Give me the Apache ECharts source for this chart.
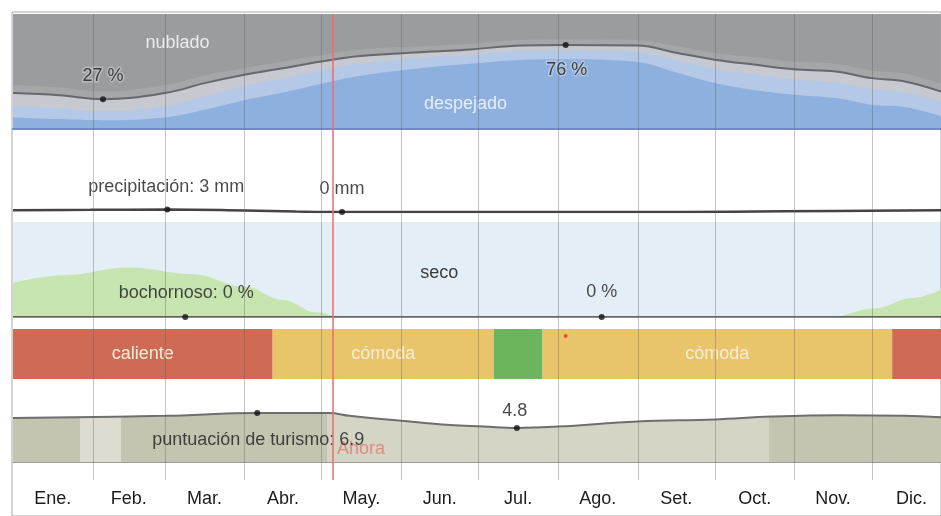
<!DOCTYPE html>
<html><head><meta charset="utf-8">
<script src="https://cdn.jsdelivr.net/npm/echarts@6/dist/echarts.min.js"></script>
<style>html,body{margin:0;padding:0;background:#fff}#c{width:941px;height:516px}</style>
</head><body><div id="c"></div>
<script>
// ---------- DATA ----------
const monthNames = ['Ene.','Feb.','Mar.','Abr.','May.','Jun.','Jul.','Ago.','Set.','Oct.','Nov.','Dic.'];
const monthStarts = [0,31,59,90,120,151,181,212,243,273,304,334,365];
const monthCenters = [15.5,45,74.5,105,135.5,166,196.5,227.5,258,288.5,319,349.5];
const nowDay = 124.5;

// Nubosidad: upper edge (%) of each cumulative band, from the bottom
const cloudDays            = [0,18,35,59,75,90,105,120,135,163,178,198,215,243,258,273,289,304,320,334,347,361];
const cloudClearTop        = [10.5,9,8,10.5,17.7,26,33,41,48,56,59,62.5,63,60.5,51,41.6,35,31,28,22,20,11.8];
const cloudMostlyClearTop  = [20.5,18.5,16,20.5,29.7,39,46,53,59,65,67,70.5,71,69.5,62,54.6,49,45,42,36,33,24.8];
const cloudLine            = [32.5,30.5,27,32.5,41.7,49,55,61,66,70,72,75.5,76,75.5,69,62.6,58,54,52,46,43,33.8];
const cloudMostlyCloudyTop = [39.5,37.5,34,39.5,48.7,55,61,67,72,75,77,80.5,81,80.5,75,68.6,65,61,59,53,50,40.8];
const cloudMarkDays    = [35,215];
const cloudMarkValues  = [27,76];

// Precipitación (mm)
const precipDays   = [0,30,60,90,110,128,160,200,240,280,320,361];
const precipMm     = [2.2,2.6,3,1.8,0.6,0,0,0,0,0.4,1.2,2];
const precipMarkDays   = [60,128];
const precipMarkValues = [3,0];

// Humedad
const humidDays    = [0,20,45,70,90,105,118,128,318,335,350,361];
const humidComfort = [36,44,52,45,32,18,5,0,0,9,20,29];
const muggyDays    = [0,361];
const muggyPct     = [0,0];
const muggyMarkDays   = [67,229];
const muggyMarkValues = [0,0];

// Temperatura (bandas)
const tempStarts = [0,101,187,206,342];
const tempEnds   = [101,187,206,342,365];
const tempCats   = ['caliente','cómoda','fresca','cómoda','caliente'];
const tempMarkDays = [215];

// Puntuación de turismo
const tourismDays  = [0,59,95,123,131,151,170,183,196,212,243,273,295,321,347,361];
const tourismScore = [6.2,6.5,6.9,6.9,6.5,5.8,5.2,5.0,4.8,5.0,5.7,6.0,6.4,6.6,6.5,6.3];
const tourismMarkDays   = [95,196];
const tourismMarkValues = [6.9,4.8];
const tourismBandEdges = [0,26,42,122,294,365];
const tourismBandCats  = ['buena','regular','buena','aceptable','buena'];

// ---------- CHART ----------
const FONT = "'Liberation Sans', Arial, sans-serif";
const TXT = '#1c1c1c';
const zip = (a,b) => a.map((v,i)=>[v,b[i]]);
const tempColors = {'caliente':'#cf6b55','cómoda':'#e8c46b','fresca':'#6db45f'};
const tourismColors = {'buena':'#c4c5b0','regular':'#dedcd0','aceptable':'#d4d5c5'};
const XMAX = 361;

const grids = [
  {left:13,right:0,top:14,height:115,show:true,backgroundColor:'#9a9ca0',borderWidth:0},
  {left:13,right:0,top:129,height:83},
  {left:13,right:0,top:222,height:95,show:true,backgroundColor:'#e3eef6',borderWidth:0},
  {left:13,right:0,top:329,height:50},
  {left:13,right:0,top:391,height:71},
  {left:13,right:0,top:14,height:466},
  {left:12,right:-20,top:12,bottom:-20,show:true,borderColor:'#a8a8a8',borderWidth:1,backgroundColor:'rgba(0,0,0,0)'}
];
const yRanges = [[0,104],[0,100],[0,100],[0,1],[0,10],[0,1],[0,1]];
const xAxes = grids.map((g,i)=>({type:'value',gridIndex:i,min:0,max:XMAX,show:false,splitLine:{show:false}}));
xAxes[0] = {type:'value',gridIndex:0,min:0,max:XMAX,z:5,axisLine:{show:true,lineStyle:{color:'#7686cc',width:2}},axisTick:{show:false},axisLabel:{show:false},splitLine:{show:false}};
xAxes[4] = {type:'value',gridIndex:4,min:0,max:XMAX,z:5,axisLine:{show:true,lineStyle:{color:'#9c9c9c',width:1}},axisTick:{show:false},axisLabel:{show:false},splitLine:{show:false}};
xAxes[5] = {type:'value',gridIndex:5,min:0,max:XMAX,axisLine:{show:false},axisTick:{show:false},splitLine:{show:false},
  axisLabel:{show:true,customValues:monthCenters,margin:10,fontSize:18,color:TXT,fontFamily:FONT,
    formatter:(v)=>monthNames[monthCenters.indexOf(v)]}};
const yAxes = yRanges.map((r,i)=>({type:'value',gridIndex:i,min:r[0],max:r[1],show:false,splitLine:{show:false}}));

const series = [];
function area(name, xi, data, color, z){
  series.push({name,type:'line',xAxisIndex:xi,yAxisIndex:xi,data,smooth:0.4,symbol:'none',
    lineStyle:{width:0},areaStyle:{color,opacity:1,origin:'start'},silent:true,z:z});
}
function dots(xi, data, texts, offsets, halo){
  series.push({type:'scatter',xAxisIndex:xi,yAxisIndex:xi,symbolSize:6,itemStyle:{color:'#111'},z:6,
    data: data.map((d,i)=>({value:d,label:{offset:offsets[i]}})),
    label:{show:true,position:'inside',fontSize:18,fontFamily:FONT,color:TXT,
      textBorderColor: halo ? 'rgba(225,225,225,0.55)' : 'transparent', textBorderWidth: halo?3:0,
      formatter:(p)=>texts[p.dataIndex]}});
}
function textAt(xi, items, z){
  series.push({type:'scatter',xAxisIndex:xi,yAxisIndex:xi,symbolSize:0,silent:true,z:z||4,
    data: items.map(it=>({value:it.at,label:{color:it.color,opacity:it.opacity==null?1:it.opacity}})),
    label:{show:true,position:'inside',fontSize:18,fontFamily:FONT,formatter:(p)=>items[p.dataIndex].text}});
}

// Cloud panel (bands drawn from tallest to shortest, each from the axis)
area('mayormente nublado',0,zip(cloudDays,cloudMostlyCloudyTop),'#a4a6aa',2);
area('parcialmente nublado',0,zip(cloudDays,cloudLine),'#c6c9cf',2);
area('mayormente despejado',0,zip(cloudDays,cloudMostlyClearTop),'#b4c8e7',2);
area('despejado',0,zip(cloudDays,cloudClearTop),'#8eb0df',2);
series.push({type:'line',xAxisIndex:0,yAxisIndex:0,data:zip(cloudDays,cloudLine),smooth:0.4,symbol:'none',
  lineStyle:{color:'#65686d',width:2},silent:true,z:3});
dots(0, zip(cloudMarkDays,cloudMarkValues), cloudMarkValues.map(v=>v+' %'), [[0,-23],[1,25]], true);
textAt(0,[{at:[64,78],text:'nublado',color:'#ececec'},{at:[176,22.7],text:'despejado',color:'#e8eef9'}]);

// Precipitation panel
series.push({type:'line',xAxisIndex:1,yAxisIndex:1,data:zip(precipDays,precipMm),smooth:0.4,symbol:'none',
  lineStyle:{color:'#444',width:2.5},silent:true,z:3});
dots(1, zip(precipMarkDays,precipMarkValues), ['precipitación: '+precipMarkValues[0]+' mm', precipMarkValues[1]+' mm'], [[-1,-22],[0,-23]], false);

// Humidity panel
series.push({type:'line',xAxisIndex:2,yAxisIndex:2,data:zip(humidDays,humidComfort),smooth:0.4,smoothMonotone:'x',symbol:'none',
  lineStyle:{width:0},areaStyle:{color:'#c6e5b1',opacity:1},silent:true,z:2});
series.push({type:'line',xAxisIndex:2,yAxisIndex:2,data:zip(muggyDays,muggyPct),symbol:'none',
  lineStyle:{color:'#3a3a3a',width:1.5},silent:true,z:3});
dots(2, zip(muggyMarkDays,muggyMarkValues), ['bochornoso: '+muggyMarkValues[0]+' %', muggyMarkValues[1]+' %'], [[1,-24],[0,-25]], false);
textAt(2,[{at:[165.8,45.8],text:'seco',color:'#3a3a3a'}]);

// Temperature band
series.push({type:'custom',xAxisIndex:3,yAxisIndex:3,silent:true,z:2,
  data: tempStarts.map((s,i)=>[s,tempEnds[i]]),
  encode:{x:[0,1]},
  renderItem:(params,api)=>{
    const i = params.dataIndex;
    const p0 = api.coord([api.value(0),1]);
    const p1 = api.coord([api.value(1),0]);
    const cs = params.coordSys;
    const rect = {x:p0[0],y:p0[1],width:p1[0]-p0[0],height:p1[1]-p0[1]};
    const shape = echarts.graphic.clipRectByRect(rect,{x:cs.x,y:cs.y,width:cs.width,height:cs.height});
    const children = [{type:'rect',shape,style:{fill:tempColors[tempCats[i]]}}];
    if (rect.width > 100) children.push({type:'text',style:{text:tempCats[i],x:rect.x+rect.width/2,y:rect.y+rect.height/2,
      align:'center',verticalAlign:'middle',fill:'#f8ecd6',font:'18px '+FONT}});
    return {type:'group',children};
  }});
series.push({type:'scatter',xAxisIndex:3,yAxisIndex:3,symbolSize:4,itemStyle:{color:'#e8322a'},silent:true,z:4,
  data: tempMarkDays.map(d=>[d,0.86])});

// Tourism panel
const tourismAreaIndex = series.length;
series.push({type:'line',xAxisIndex:4,yAxisIndex:4,data:zip(tourismDays,tourismScore),smooth:0.4,symbol:'none',
  lineStyle:{width:0},areaStyle:{opacity:1},silent:true,z:2});
series.push({type:'line',xAxisIndex:4,yAxisIndex:4,data:zip(tourismDays,tourismScore),smooth:0.4,symbol:'none',
  lineStyle:{color:'#6e6e6e',width:2},silent:true,z:3});
textAt(4,[{at:[135.4,1.8],text:'Ahora',color:'#e25a5a',opacity:0.6}],3);
dots(4, zip(tourismMarkDays,tourismMarkValues), ['puntuación de turismo: '+tourismMarkValues[0], String(tourismMarkValues[1])], [[1,27],[-2,-17]], false);

// Overlay: month gridlines + now line (markLine)
series.push({type:'custom',xAxisIndex:5,yAxisIndex:5,silent:true,z:10,
  data: monthStarts.filter(d=>d>0 && d<XMAX).map(d=>[d]),
  renderItem:(params,api)=>{
    const a = api.coord([api.value(0),0]), b = api.coord([api.value(0),1]);
    return {type:'line',shape:{x1:Math.round(a[0])+0.5,y1:a[1],x2:Math.round(a[0])+0.5,y2:b[1]},style:{stroke:'rgba(90,90,90,0.35)',lineWidth:1}};
  },
  markLine:{silent:true,symbol:'none',animation:false,label:{show:false},z:12,
    lineStyle:{color:'#ef6a6a',type:'solid',width:1.5,opacity:1},
    emphasis:{disabled:true},
    data:[{xAxis:nowDay}]}
});

const chart = echarts.init(document.getElementById('c'),null,{renderer:'canvas'});
chart.setOption({
  animation:false,
  backgroundColor:'#ffffff',
  textStyle:{fontFamily:FONT},
  grid:grids,
  xAxis:xAxes,
  yAxis:yAxes,
  visualMap:[{type:'piecewise',show:false,seriesIndex:tourismAreaIndex,dimension:0,
    pieces: tourismBandCats.map((c,i)=>({gte:tourismBandEdges[i],lt:tourismBandEdges[i+1],color:tourismColors[c]}))}],
  series
});
</script></body></html>
